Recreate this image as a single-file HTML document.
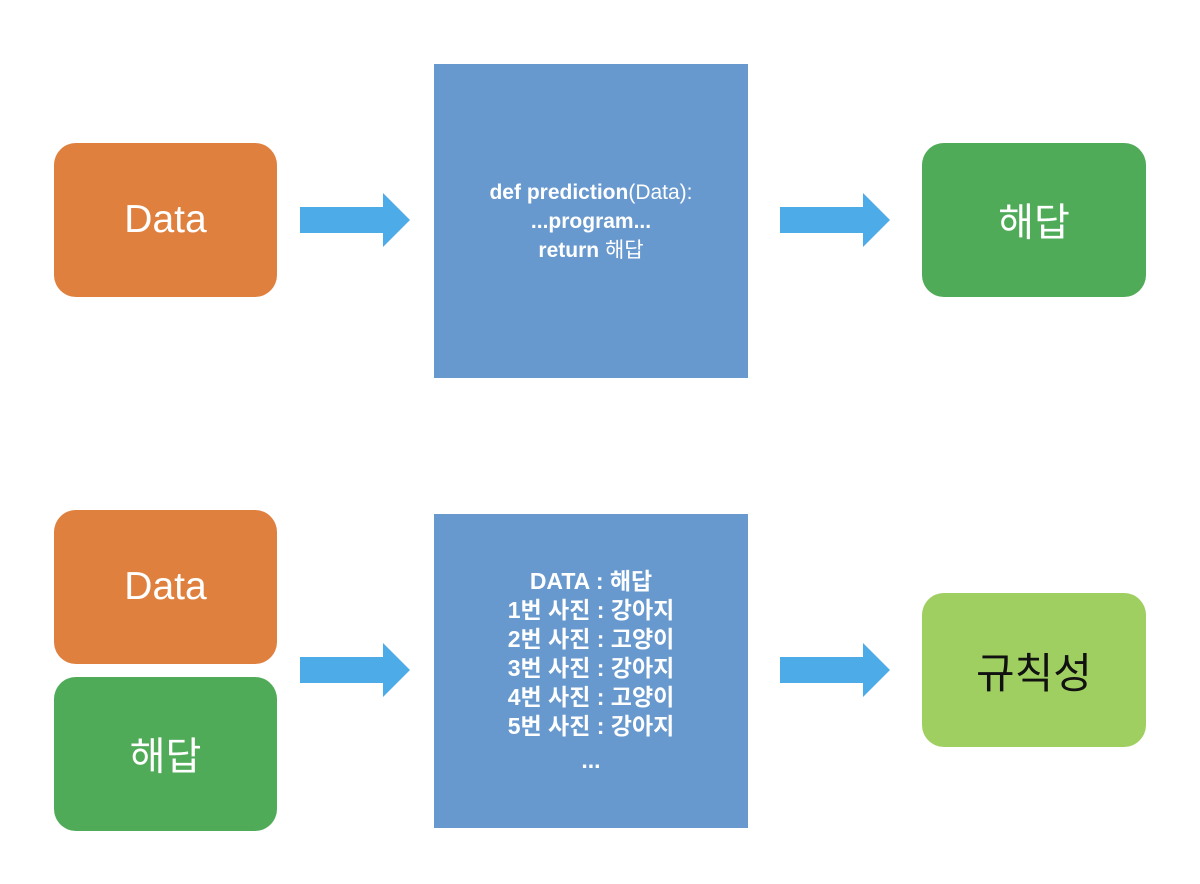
<!DOCTYPE html>
<html><head><meta charset="utf-8"><style>
html,body{margin:0;padding:0;background:#fff;width:1200px;height:884px;overflow:hidden;position:relative;font-family:"Liberation Sans","Noto Sans CJK KR",sans-serif}
.b{position:absolute;display:flex;align-items:center;justify-content:center;color:#fff;font-size:39px}
.r{border-radius:22px}
.or{background:#DF803F}
.gr{background:#4FAB57}
.lg{background:#9FCF60;color:#111}
.bl{background:#6899CE}
.t{position:absolute;left:434px;width:314px;text-align:center;color:#fff;font-weight:bold;font-size:23px;line-height:29px}
svg{position:absolute;left:0;top:0}
</style></head><body>
<svg width="1200" height="884">
<g fill="#4DACE8">
<polygon points="300,207 383,207 383,193 410,220 383,247 383,233 300,233"/>
<polygon points="780,207 863,207 863,193 890,220 863,247 863,233 780,233"/>
<polygon points="300,657 383,657 383,643 410,670 383,697 383,683 300,683"/>
<polygon points="780,657 863,657 863,643 890,670 863,697 863,683 780,683"/>
</g>
</svg>
<div class="b r or" style="left:54px;top:143px;width:223px;height:154px">Data</div>
<div class="b bl" style="left:434px;top:64px;width:314px;height:314px"></div>
<div class="t" style="top:178px;font-size:21px;line-height:29px">def prediction<span style="font-weight:normal">(Data):</span><br>...program...<br>return <span style="font-weight:normal">해답</span></div>
<div class="b r gr" style="left:922px;top:143px;width:224px;height:154px">해답</div>

<div class="b r or" style="left:54px;top:510px;width:223px;height:154px">Data</div>
<div class="b r gr" style="left:54px;top:677px;width:223px;height:154px">해답</div>
<div class="b bl" style="left:434px;top:514px;width:314px;height:314px"></div>
<div class="t" style="top:567px">DATA : 해답<br>1번 사진 : 강아지<br>2번 사진 : 고양이<br>3번 사진 : 강아지<br>4번 사진 : 고양이<br>5번 사진 : 강아지</div>
<div class="t" style="top:746px">...</div>
<div class="b r lg" style="left:922px;top:593px;width:224px;height:154px;font-size:42px">규칙성</div>
</body></html>
